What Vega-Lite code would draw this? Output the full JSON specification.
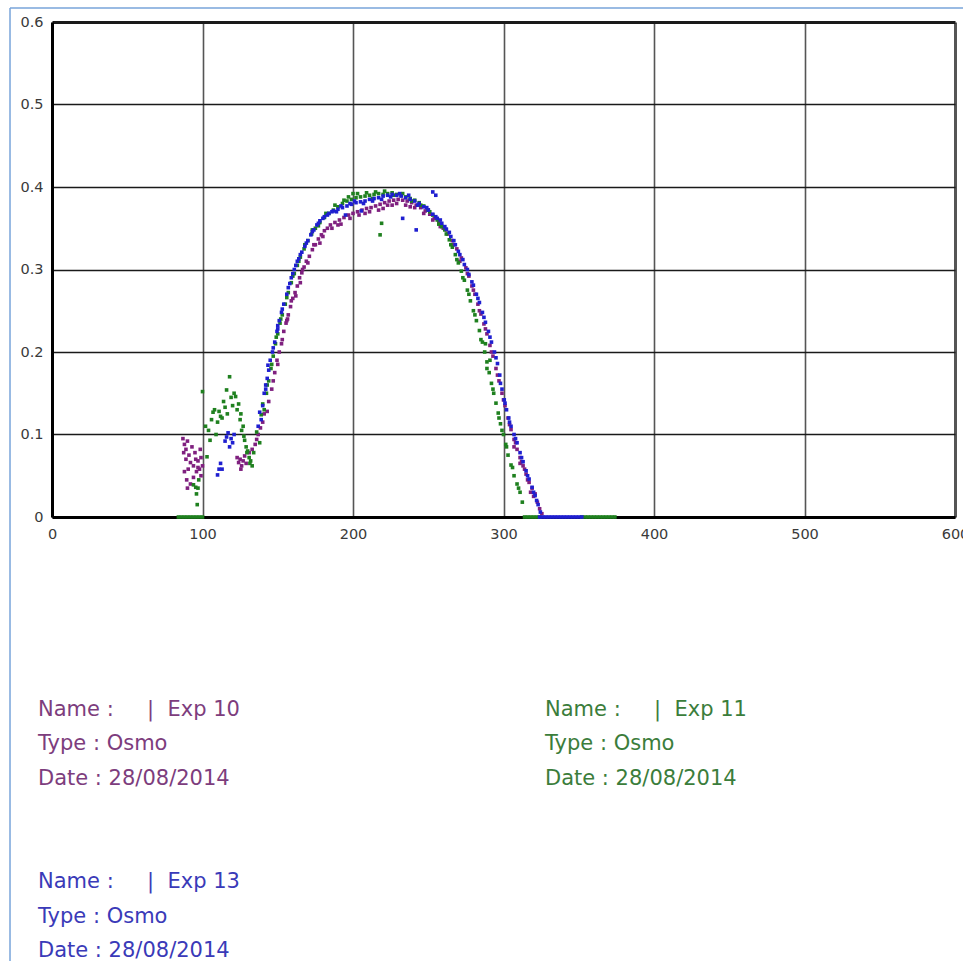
{
"$schema":"https://vega.github.io/schema/vega-lite/v6.json",
"width":903,"height":495,
"autosize":{"type":"none"},
"padding":{"left":52,"top":22,"right":8,"bottom":444},
"background":"white",
"config":{"view":{"stroke":null},"axis":{"labelFont":"DejaVu Sans","labelFontSize":14.5,"labelColor":"#3a3a3a","ticks":false,"tickSize":0,"domainColor":"#000000","domainWidth":3,"title":null}},
"datasets":{
"pts":[
{"exp":"Exp 10","x":87,"y":0.095},{"exp":"Exp 10","x":88,"y":0.088},{"exp":"Exp 10","x":87.5,"y":0.078},{"exp":"Exp 10","x":89,"y":0.082},{"exp":"Exp 10","x":90,"y":0.092},{"exp":"Exp 10","x":89,"y":0.07},{"exp":"Exp 10","x":91,"y":0.075},{"exp":"Exp 10","x":92,"y":0.066},{"exp":"Exp 10","x":90.5,"y":0.058},{"exp":"Exp 10","x":93,"y":0.085},{"exp":"Exp 10","x":94,"y":0.062},{"exp":"Exp 10","x":95,"y":0.078},{"exp":"Exp 10","x":96,"y":0.055},{"exp":"Exp 10","x":95.5,"y":0.07},{"exp":"Exp 10","x":97,"y":0.068},{"exp":"Exp 10","x":98,"y":0.058},{"exp":"Exp 10","x":99,"y":0.05},{"exp":"Exp 10","x":88,"y":0.055},{"exp":"Exp 10","x":89.5,"y":0.045},{"exp":"Exp 10","x":90,"y":0.035},{"exp":"Exp 10","x":92,"y":0.04},{"exp":"Exp 10","x":94,"y":0.048},{"exp":"Exp 10","x":97,"y":0.06},{"exp":"Exp 10","x":99,"y":0.072},{"exp":"Exp 10","x":100,"y":0.062},{"exp":"Exp 10","x":98.5,"y":0.082},
{"exp":"Exp 10","x":123,"y":0.072},{"exp":"Exp 10","x":124,"y":0.066},{"exp":"Exp 10","x":125,"y":0.07},{"exp":"Exp 10","x":126,"y":0.062},{"exp":"Exp 10","x":127,"y":0.068},{"exp":"Exp 10","x":125.5,"y":0.058},{"exp":"Exp 10","x":128,"y":0.074},{"exp":"Exp 10","x":129,"y":0.065},{"exp":"Exp 10","x":131,"y":0.078},{"exp":"Exp 10","x":133,"y":0.082},{"exp":"Exp 10","x":135,"y":0.088},{"exp":"Exp 10","x":136,"y":0.094},{"exp":"Exp 10","x":137,"y":0.1},{"exp":"Exp 10","x":138.5,"y":0.108},{"exp":"Exp 10","x":140,"y":0.115},{"exp":"Exp 10","x":141,"y":0.125},{"exp":"Exp 10","x":143,"y":0.128},{"exp":"Exp 10","x":144,"y":0.14},{"exp":"Exp 10","x":146,"y":0.155},{"exp":"Exp 10","x":147,"y":0.165},
{"exp":"Exp 10","x":148,"y":0.175},{"exp":"Exp 10","x":149.5,"y":0.19},{"exp":"Exp 10","x":151,"y":0.2},{"exp":"Exp 10","x":152.5,"y":0.21},{"exp":"Exp 10","x":154,"y":0.225},{"exp":"Exp 10","x":155.5,"y":0.235},{"exp":"Exp 10","x":157,"y":0.245},{"exp":"Exp 10","x":158.5,"y":0.255},{"exp":"Exp 10","x":160,"y":0.265},{"exp":"Exp 10","x":161.5,"y":0.272},{"exp":"Exp 10","x":163,"y":0.28},{"exp":"Exp 10","x":164.5,"y":0.29},{"exp":"Exp 10","x":166,"y":0.296},{"exp":"Exp 10","x":167.5,"y":0.303},{"exp":"Exp 10","x":169,"y":0.31},{"exp":"Exp 10","x":171,"y":0.316},{"exp":"Exp 10","x":173,"y":0.324},{"exp":"Exp 10","x":175,"y":0.33},{"exp":"Exp 10","x":177,"y":0.337},{"exp":"Exp 10","x":179,"y":0.342},{"exp":"Exp 10","x":181,"y":0.347},{"exp":"Exp 10","x":183,"y":0.35},{"exp":"Exp 10","x":185,"y":0.354},{"exp":"Exp 10","x":188,"y":0.357},{"exp":"Exp 10","x":191,"y":0.36},{"exp":"Exp 10","x":194,"y":0.363},{"exp":"Exp 10","x":197,"y":0.366},{"exp":"Exp 10","x":200,"y":0.368},{"exp":"Exp 10","x":203,"y":0.37},{"exp":"Exp 10","x":206,"y":0.372},{"exp":"Exp 10","x":209,"y":0.374},{"exp":"Exp 10","x":212,"y":0.375},{"exp":"Exp 10","x":215,"y":0.377},{"exp":"Exp 10","x":218,"y":0.379},{"exp":"Exp 10","x":221,"y":0.381},{"exp":"Exp 10","x":224,"y":0.383},{"exp":"Exp 10","x":227,"y":0.384},{"exp":"Exp 10","x":230,"y":0.385},{"exp":"Exp 10","x":233,"y":0.384},{"exp":"Exp 10","x":236,"y":0.383},{"exp":"Exp 10","x":239,"y":0.381},{"exp":"Exp 10","x":242,"y":0.378},{"exp":"Exp 10","x":245,"y":0.375},{"exp":"Exp 10","x":248,"y":0.371},{"exp":"Exp 10","x":251,"y":0.367},{"exp":"Exp 10","x":254,"y":0.362},{"exp":"Exp 10","x":257,"y":0.357},{"exp":"Exp 10","x":260,"y":0.35},{"exp":"Exp 10","x":263,"y":0.343},{"exp":"Exp 10","x":266,"y":0.335},{"exp":"Exp 10","x":269,"y":0.325},{"exp":"Exp 10","x":272,"y":0.314},{"exp":"Exp 10","x":275,"y":0.302},{"exp":"Exp 10","x":277,"y":0.292},{"exp":"Exp 10","x":279,"y":0.28},{"exp":"Exp 10","x":281,"y":0.27},{"exp":"Exp 10","x":283,"y":0.258},{"exp":"Exp 10","x":285,"y":0.246},{"exp":"Exp 10","x":287,"y":0.234},{"exp":"Exp 10","x":289,"y":0.222},{"exp":"Exp 10","x":291,"y":0.208},{"exp":"Exp 10","x":293,"y":0.195},{"exp":"Exp 10","x":295,"y":0.18},{"exp":"Exp 10","x":297,"y":0.165},{"exp":"Exp 10","x":299,"y":0.15},{"exp":"Exp 10","x":301,"y":0.135},{"exp":"Exp 10","x":303,"y":0.12},{"exp":"Exp 10","x":305,"y":0.106},{"exp":"Exp 10","x":307,"y":0.094},{"exp":"Exp 10","x":309,"y":0.082},{"exp":"Exp 10","x":311,"y":0.072},{"exp":"Exp 10","x":313,"y":0.062},{"exp":"Exp 10","x":315,"y":0.052},{"exp":"Exp 10","x":317,"y":0.042},{"exp":"Exp 10","x":319,"y":0.035},{"exp":"Exp 10","x":321,"y":0.028},{"exp":"Exp 10","x":322.5,"y":0.018},{"exp":"Exp 10","x":324,"y":0.01},{"exp":"Exp 10","x":325.5,"y":0.004},
{"exp":"Exp 10","x":208,"y":0.368},{"exp":"Exp 10","x":220,"y":0.374},{"exp":"Exp 10","x":226,"y":0.378},{"exp":"Exp 10","x":238,"y":0.376},{"exp":"Exp 10","x":250,"y":0.372},{"exp":"Exp 10","x":190,"y":0.354},{"exp":"Exp 10","x":178,"y":0.332},{"exp":"Exp 10","x":165,"y":0.284},{"exp":"Exp 10","x":156,"y":0.238},{"exp":"Exp 10","x":307,"y":0.085},{"exp":"Exp 10","x":311,"y":0.065},{"exp":"Exp 10","x":316,"y":0.045},{"exp":"Exp 10","x":320,"y":0.025},{"exp":"Exp 10","x":318,"y":0.03},
{"exp":"Exp 10","x":150,"y":0.185},{"exp":"Exp 10","x":153,"y":0.215},{"exp":"Exp 10","x":156.5,"y":0.24},{"exp":"Exp 10","x":159,"y":0.262},{"exp":"Exp 10","x":162,"y":0.268},{"exp":"Exp 10","x":166.5,"y":0.3},{"exp":"Exp 10","x":170,"y":0.308},{"exp":"Exp 10","x":174,"y":0.33},{"exp":"Exp 10","x":180,"y":0.34},{"exp":"Exp 10","x":186,"y":0.35},{"exp":"Exp 10","x":192,"y":0.355},{"exp":"Exp 10","x":198,"y":0.362},{"exp":"Exp 10","x":204,"y":0.366},{"exp":"Exp 10","x":211,"y":0.37},{"exp":"Exp 10","x":217,"y":0.372},{"exp":"Exp 10","x":223,"y":0.378},{"exp":"Exp 10","x":229,"y":0.38},{"exp":"Exp 10","x":235,"y":0.378},{"exp":"Exp 10","x":241,"y":0.375},{"exp":"Exp 10","x":247,"y":0.368},{"exp":"Exp 10","x":253,"y":0.36},{"exp":"Exp 10","x":258,"y":0.352},{"exp":"Exp 10","x":262,"y":0.348},{"exp":"Exp 10","x":267,"y":0.33},{"exp":"Exp 10","x":271,"y":0.31},{"exp":"Exp 10","x":276,"y":0.295},{"exp":"Exp 10","x":280,"y":0.275},{"exp":"Exp 10","x":284,"y":0.25},{"exp":"Exp 10","x":288,"y":0.228},{"exp":"Exp 10","x":292,"y":0.2},{"exp":"Exp 10","x":296,"y":0.172},{"exp":"Exp 10","x":300,"y":0.142},{"exp":"Exp 10","x":304,"y":0.112},{"exp":"Exp 10","x":308,"y":0.09},{"exp":"Exp 10","x":312,"y":0.067},{"exp":"Exp 10","x":314,"y":0.058},
{"exp":"Exp 11","x":84,"y":0},{"exp":"Exp 11","x":86,"y":0},{"exp":"Exp 11","x":88,"y":0},{"exp":"Exp 11","x":90,"y":0},{"exp":"Exp 11","x":92,"y":0},{"exp":"Exp 11","x":94,"y":0},{"exp":"Exp 11","x":96,"y":0},{"exp":"Exp 11","x":98,"y":0},{"exp":"Exp 11","x":100,"y":0},
{"exp":"Exp 11","x":94,"y":0.039},{"exp":"Exp 11","x":95.5,"y":0.036},{"exp":"Exp 11","x":97,"y":0.035},{"exp":"Exp 11","x":96,"y":0.028},{"exp":"Exp 11","x":96.5,"y":0.015},{"exp":"Exp 11","x":97.5,"y":0.045},{"exp":"Exp 11","x":100,"y":0.152},{"exp":"Exp 11","x":102,"y":0.11},{"exp":"Exp 11","x":103,"y":0.073},{"exp":"Exp 11","x":104,"y":0.105},{"exp":"Exp 11","x":105,"y":0.093},{"exp":"Exp 11","x":106,"y":0.118},{"exp":"Exp 11","x":107,"y":0.127},{"exp":"Exp 11","x":108,"y":0.13},{"exp":"Exp 11","x":109,"y":0.1},{"exp":"Exp 11","x":110,"y":0.115},{"exp":"Exp 11","x":111,"y":0.128},{"exp":"Exp 11","x":112,"y":0.122},{"exp":"Exp 11","x":113,"y":0.12},{"exp":"Exp 11","x":114,"y":0.14},{"exp":"Exp 11","x":115,"y":0.133},{"exp":"Exp 11","x":116,"y":0.154},{"exp":"Exp 11","x":116.5,"y":0.125},{"exp":"Exp 11","x":118,"y":0.17},{"exp":"Exp 11","x":119,"y":0.145},{"exp":"Exp 11","x":120,"y":0.135},{"exp":"Exp 11","x":121,"y":0.15},{"exp":"Exp 11","x":122,"y":0.146},{"exp":"Exp 11","x":123,"y":0.13},{"exp":"Exp 11","x":124,"y":0.137},{"exp":"Exp 11","x":125,"y":0.118},{"exp":"Exp 11","x":125.5,"y":0.125},{"exp":"Exp 11","x":126,"y":0.105},{"exp":"Exp 11","x":127,"y":0.11},{"exp":"Exp 11","x":127.5,"y":0.098},{"exp":"Exp 11","x":128,"y":0.093},{"exp":"Exp 11","x":129,"y":0.085},{"exp":"Exp 11","x":129.5,"y":0.078},{"exp":"Exp 11","x":130,"y":0.08},{"exp":"Exp 11","x":131,"y":0.072},{"exp":"Exp 11","x":131.5,"y":0.065},{"exp":"Exp 11","x":132,"y":0.068},{"exp":"Exp 11","x":133,"y":0.062},{"exp":"Exp 11","x":134,"y":0.078},{"exp":"Exp 11","x":136,"y":0.103},{"exp":"Exp 11","x":138,"y":0.09},{"exp":"Exp 11","x":139,"y":0.124},{"exp":"Exp 11","x":140,"y":0.137},
{"exp":"Exp 11","x":141,"y":0.13},{"exp":"Exp 11","x":142.5,"y":0.15},{"exp":"Exp 11","x":144,"y":0.165},{"exp":"Exp 11","x":145.5,"y":0.18},{"exp":"Exp 11","x":147,"y":0.195},{"exp":"Exp 11","x":148.5,"y":0.21},{"exp":"Exp 11","x":150,"y":0.222},{"exp":"Exp 11","x":151.5,"y":0.235},{"exp":"Exp 11","x":153,"y":0.245},{"exp":"Exp 11","x":155,"y":0.258},{"exp":"Exp 11","x":157,"y":0.272},{"exp":"Exp 11","x":159,"y":0.284},{"exp":"Exp 11","x":161,"y":0.295},{"exp":"Exp 11","x":163,"y":0.305},{"exp":"Exp 11","x":165,"y":0.315},{"exp":"Exp 11","x":167.5,"y":0.325},{"exp":"Exp 11","x":170,"y":0.335},{"exp":"Exp 11","x":172.5,"y":0.343},{"exp":"Exp 11","x":175,"y":0.35},{"exp":"Exp 11","x":178,"y":0.357},{"exp":"Exp 11","x":181,"y":0.363},{"exp":"Exp 11","x":184,"y":0.368},{"exp":"Exp 11","x":187,"y":0.372},{"exp":"Exp 11","x":190,"y":0.376},{"exp":"Exp 11","x":193,"y":0.38},{"exp":"Exp 11","x":196,"y":0.383},{"exp":"Exp 11","x":199,"y":0.385},{"exp":"Exp 11","x":202,"y":0.387},{"exp":"Exp 11","x":205,"y":0.388},{"exp":"Exp 11","x":208,"y":0.389},{"exp":"Exp 11","x":211,"y":0.39},{"exp":"Exp 11","x":214,"y":0.391},{"exp":"Exp 11","x":217,"y":0.392},{"exp":"Exp 11","x":220,"y":0.391},{"exp":"Exp 11","x":223,"y":0.392},{"exp":"Exp 11","x":226,"y":0.393},{"exp":"Exp 11","x":229,"y":0.391},{"exp":"Exp 11","x":232,"y":0.39},{"exp":"Exp 11","x":235,"y":0.388},{"exp":"Exp 11","x":238,"y":0.386},{"exp":"Exp 11","x":241,"y":0.384},{"exp":"Exp 11","x":244,"y":0.381},{"exp":"Exp 11","x":247,"y":0.377},{"exp":"Exp 11","x":250,"y":0.372},{"exp":"Exp 11","x":253,"y":0.366},{"exp":"Exp 11","x":256,"y":0.36},{"exp":"Exp 11","x":259,"y":0.352},{"exp":"Exp 11","x":262,"y":0.343},{"exp":"Exp 11","x":264,"y":0.336},{"exp":"Exp 11","x":266,"y":0.327},{"exp":"Exp 11","x":268,"y":0.318},{"exp":"Exp 11","x":270,"y":0.308},{"exp":"Exp 11","x":272,"y":0.298},{"exp":"Exp 11","x":274,"y":0.287},{"exp":"Exp 11","x":276,"y":0.275},{"exp":"Exp 11","x":278,"y":0.262},{"exp":"Exp 11","x":280,"y":0.25},{"exp":"Exp 11","x":282,"y":0.238},{"exp":"Exp 11","x":284,"y":0.226},{"exp":"Exp 11","x":286,"y":0.212},{"exp":"Exp 11","x":287.5,"y":0.2},{"exp":"Exp 11","x":289,"y":0.188},{"exp":"Exp 11","x":290.5,"y":0.175},{"exp":"Exp 11","x":292,"y":0.162},{"exp":"Exp 11","x":293.5,"y":0.15},{"exp":"Exp 11","x":295,"y":0.138},{"exp":"Exp 11","x":296.5,"y":0.126},{"exp":"Exp 11","x":298,"y":0.113},{"exp":"Exp 11","x":300,"y":0.1},{"exp":"Exp 11","x":301.5,"y":0.088},{"exp":"Exp 11","x":303,"y":0.075},{"exp":"Exp 11","x":305,"y":0.063},{"exp":"Exp 11","x":307,"y":0.05},{"exp":"Exp 11","x":309,"y":0.04},{"exp":"Exp 11","x":311,"y":0.03},{"exp":"Exp 11","x":312.5,"y":0.018},
{"exp":"Exp 11","x":200,"y":0.392},{"exp":"Exp 11","x":218,"y":0.342},{"exp":"Exp 11","x":219,"y":0.356},{"exp":"Exp 11","x":288,"y":0.21},{"exp":"Exp 11","x":291,"y":0.19},
{"exp":"Exp 11","x":143,"y":0.16},{"exp":"Exp 11","x":146,"y":0.185},{"exp":"Exp 11","x":149,"y":0.218},{"exp":"Exp 11","x":152,"y":0.24},{"exp":"Exp 11","x":156,"y":0.266},{"exp":"Exp 11","x":160,"y":0.292},{"exp":"Exp 11","x":164,"y":0.31},{"exp":"Exp 11","x":168,"y":0.33},{"exp":"Exp 11","x":173,"y":0.348},{"exp":"Exp 11","x":177,"y":0.353},{"exp":"Exp 11","x":182,"y":0.368},{"exp":"Exp 11","x":188,"y":0.378},{"exp":"Exp 11","x":194,"y":0.384},{"exp":"Exp 11","x":203,"y":0.392},{"exp":"Exp 11","x":209,"y":0.393},{"exp":"Exp 11","x":215,"y":0.394},{"exp":"Exp 11","x":221,"y":0.395},{"exp":"Exp 11","x":227,"y":0.39},{"exp":"Exp 11","x":233,"y":0.392},{"exp":"Exp 11","x":239,"y":0.383},{"exp":"Exp 11","x":245,"y":0.378},{"exp":"Exp 11","x":251,"y":0.37},{"exp":"Exp 11","x":257,"y":0.355},{"exp":"Exp 11","x":261,"y":0.348},{"exp":"Exp 11","x":265,"y":0.33},{"exp":"Exp 11","x":269,"y":0.312},{"exp":"Exp 11","x":273,"y":0.29},{"exp":"Exp 11","x":277,"y":0.27},{"exp":"Exp 11","x":281,"y":0.245},{"exp":"Exp 11","x":285,"y":0.215},{"exp":"Exp 11","x":289,"y":0.18},{"exp":"Exp 11","x":293,"y":0.155},{"exp":"Exp 11","x":297,"y":0.12},{"exp":"Exp 11","x":299,"y":0.105},{"exp":"Exp 11","x":302,"y":0.085},{"exp":"Exp 11","x":306,"y":0.06},{"exp":"Exp 11","x":310,"y":0.035},{"exp":"Exp 11","x":213,"y":0.386},{"exp":"Exp 11","x":197,"y":0.388},
{"exp":"Exp 11","x":314,"y":0},{"exp":"Exp 11","x":316,"y":0},{"exp":"Exp 11","x":318,"y":0},{"exp":"Exp 11","x":320,"y":0},{"exp":"Exp 11","x":322,"y":0},{"exp":"Exp 11","x":324,"y":0},{"exp":"Exp 11","x":352,"y":0},{"exp":"Exp 11","x":354,"y":0},{"exp":"Exp 11","x":356,"y":0},{"exp":"Exp 11","x":358,"y":0},{"exp":"Exp 11","x":360,"y":0},{"exp":"Exp 11","x":362,"y":0},{"exp":"Exp 11","x":364,"y":0},{"exp":"Exp 11","x":366,"y":0},{"exp":"Exp 11","x":368,"y":0},{"exp":"Exp 11","x":370,"y":0},{"exp":"Exp 11","x":372,"y":0},{"exp":"Exp 11","x":374,"y":0},
{"exp":"Exp 13","x":110,"y":0.051},{"exp":"Exp 13","x":111,"y":0.058},{"exp":"Exp 13","x":112,"y":0.065},{"exp":"Exp 13","x":113,"y":0.058},{"exp":"Exp 13","x":115,"y":0.092},{"exp":"Exp 13","x":116,"y":0.097},{"exp":"Exp 13","x":117,"y":0.102},{"exp":"Exp 13","x":118,"y":0.085},{"exp":"Exp 13","x":119,"y":0.095},{"exp":"Exp 13","x":120,"y":0.09},{"exp":"Exp 13","x":121,"y":0.1},
{"exp":"Exp 13","x":137,"y":0.11},{"exp":"Exp 13","x":138,"y":0.127},{"exp":"Exp 13","x":139,"y":0.118},{"exp":"Exp 13","x":140,"y":0.135},{"exp":"Exp 13","x":141,"y":0.15},{"exp":"Exp 13","x":142,"y":0.16},{"exp":"Exp 13","x":143,"y":0.168},{"exp":"Exp 13","x":143.5,"y":0.184},{"exp":"Exp 13","x":145,"y":0.19},{"exp":"Exp 13","x":146.5,"y":0.2},{"exp":"Exp 13","x":148,"y":0.212},{"exp":"Exp 13","x":149.5,"y":0.225},{"exp":"Exp 13","x":150,"y":0.232},{"exp":"Exp 13","x":151,"y":0.238},{"exp":"Exp 13","x":152.5,"y":0.248},{"exp":"Exp 13","x":154,"y":0.258},{"exp":"Exp 13","x":156,"y":0.27},{"exp":"Exp 13","x":158,"y":0.283},{"exp":"Exp 13","x":160,"y":0.295},{"exp":"Exp 13","x":162,"y":0.305},{"exp":"Exp 13","x":163,"y":0.31},{"exp":"Exp 13","x":164,"y":0.313},{"exp":"Exp 13","x":166,"y":0.321},{"exp":"Exp 13","x":168,"y":0.328},{"exp":"Exp 13","x":170,"y":0.335},{"exp":"Exp 13","x":172,"y":0.342},{"exp":"Exp 13","x":174,"y":0.348},{"exp":"Exp 13","x":176,"y":0.354},{"exp":"Exp 13","x":178,"y":0.359},{"exp":"Exp 13","x":181,"y":0.364},{"exp":"Exp 13","x":184,"y":0.368},{"exp":"Exp 13","x":187,"y":0.371},{"exp":"Exp 13","x":190,"y":0.373},{"exp":"Exp 13","x":193,"y":0.375},{"exp":"Exp 13","x":195,"y":0.366},{"exp":"Exp 13","x":196,"y":0.377},{"exp":"Exp 13","x":199,"y":0.379},{"exp":"Exp 13","x":202,"y":0.381},{"exp":"Exp 13","x":205,"y":0.382},{"exp":"Exp 13","x":205.5,"y":0.371},{"exp":"Exp 13","x":208,"y":0.383},{"exp":"Exp 13","x":211,"y":0.385},{"exp":"Exp 13","x":214,"y":0.386},{"exp":"Exp 13","x":217,"y":0.387},{"exp":"Exp 13","x":220,"y":0.389},{"exp":"Exp 13","x":223,"y":0.39},{"exp":"Exp 13","x":226,"y":0.391},{"exp":"Exp 13","x":229,"y":0.39},{"exp":"Exp 13","x":232,"y":0.389},{"exp":"Exp 13","x":235,"y":0.387},{"exp":"Exp 13","x":238,"y":0.385},{"exp":"Exp 13","x":241,"y":0.383},{"exp":"Exp 13","x":244,"y":0.38},{"exp":"Exp 13","x":247,"y":0.376},{"exp":"Exp 13","x":250,"y":0.372},{"exp":"Exp 13","x":253,"y":0.367},{"exp":"Exp 13","x":256,"y":0.362},{"exp":"Exp 13","x":259,"y":0.356},{"exp":"Exp 13","x":262,"y":0.349},{"exp":"Exp 13","x":265,"y":0.34},{"exp":"Exp 13","x":268,"y":0.33},{"exp":"Exp 13","x":271,"y":0.318},{"exp":"Exp 13","x":274,"y":0.306},{"exp":"Exp 13","x":277,"y":0.294},{"exp":"Exp 13","x":280,"y":0.281},{"exp":"Exp 13","x":282,"y":0.27},{"exp":"Exp 13","x":284,"y":0.26},{"exp":"Exp 13","x":286,"y":0.248},{"exp":"Exp 13","x":288,"y":0.236},{"exp":"Exp 13","x":290,"y":0.225},{"exp":"Exp 13","x":292,"y":0.212},{"exp":"Exp 13","x":294,"y":0.2},{"exp":"Exp 13","x":296,"y":0.186},{"exp":"Exp 13","x":297.5,"y":0.172},{"exp":"Exp 13","x":299,"y":0.155},{"exp":"Exp 13","x":300.5,"y":0.142},{"exp":"Exp 13","x":302,"y":0.13},{"exp":"Exp 13","x":303.5,"y":0.12},{"exp":"Exp 13","x":305,"y":0.11},{"exp":"Exp 13","x":307,"y":0.1},{"exp":"Exp 13","x":309,"y":0.09},{"exp":"Exp 13","x":311,"y":0.078},{"exp":"Exp 13","x":313,"y":0.067},{"exp":"Exp 13","x":315,"y":0.056},{"exp":"Exp 13","x":317,"y":0.046},{"exp":"Exp 13","x":319,"y":0.036},{"exp":"Exp 13","x":321,"y":0.026},{"exp":"Exp 13","x":323,"y":0.015},{"exp":"Exp 13","x":324.5,"y":0.006},
{"exp":"Exp 13","x":233,"y":0.362},{"exp":"Exp 13","x":242,"y":0.348},{"exp":"Exp 13","x":253,"y":0.394},{"exp":"Exp 13","x":255,"y":0.39},
{"exp":"Exp 13","x":142,"y":0.155},{"exp":"Exp 13","x":144,"y":0.178},{"exp":"Exp 13","x":147,"y":0.205},{"exp":"Exp 13","x":150,"y":0.228},{"exp":"Exp 13","x":153,"y":0.252},{"exp":"Exp 13","x":157,"y":0.278},{"exp":"Exp 13","x":159,"y":0.29},{"exp":"Exp 13","x":161,"y":0.3},{"exp":"Exp 13","x":165,"y":0.318},{"exp":"Exp 13","x":169,"y":0.332},{"exp":"Exp 13","x":173,"y":0.346},{"exp":"Exp 13","x":177,"y":0.356},{"exp":"Exp 13","x":180,"y":0.362},{"exp":"Exp 13","x":183,"y":0.366},{"exp":"Exp 13","x":186,"y":0.37},{"exp":"Exp 13","x":189,"y":0.37},{"exp":"Exp 13","x":192,"y":0.377},{"exp":"Exp 13","x":198,"y":0.38},{"exp":"Exp 13","x":201,"y":0.383},{"exp":"Exp 13","x":207,"y":0.38},{"exp":"Exp 13","x":213,"y":0.383},{"exp":"Exp 13","x":219,"y":0.385},{"exp":"Exp 13","x":225,"y":0.388},{"exp":"Exp 13","x":231,"y":0.392},{"exp":"Exp 13","x":237,"y":0.39},{"exp":"Exp 13","x":243,"y":0.378},{"exp":"Exp 13","x":249,"y":0.375},{"exp":"Exp 13","x":255,"y":0.364},{"exp":"Exp 13","x":258,"y":0.36},{"exp":"Exp 13","x":261,"y":0.352},{"exp":"Exp 13","x":264,"y":0.345},{"exp":"Exp 13","x":267,"y":0.335},{"exp":"Exp 13","x":270,"y":0.322},{"exp":"Exp 13","x":273,"y":0.312},{"exp":"Exp 13","x":276,"y":0.3},{"exp":"Exp 13","x":279,"y":0.285},{"exp":"Exp 13","x":283,"y":0.265},{"exp":"Exp 13","x":287,"y":0.242},{"exp":"Exp 13","x":291,"y":0.218},{"exp":"Exp 13","x":295,"y":0.193},{"exp":"Exp 13","x":298,"y":0.162},{"exp":"Exp 13","x":301,"y":0.138},{"exp":"Exp 13","x":304,"y":0.115},{"exp":"Exp 13","x":308,"y":0.095},{"exp":"Exp 13","x":312,"y":0.072},{"exp":"Exp 13","x":316,"y":0.05},{"exp":"Exp 13","x":320,"y":0.03},{"exp":"Exp 13","x":322,"y":0.02},
{"exp":"Exp 13","x":324,"y":0},{"exp":"Exp 13","x":326,"y":0},{"exp":"Exp 13","x":328,"y":0},{"exp":"Exp 13","x":330,"y":0},{"exp":"Exp 13","x":332,"y":0},{"exp":"Exp 13","x":334,"y":0},{"exp":"Exp 13","x":336,"y":0},{"exp":"Exp 13","x":338,"y":0},{"exp":"Exp 13","x":340,"y":0},{"exp":"Exp 13","x":342,"y":0},{"exp":"Exp 13","x":344,"y":0},{"exp":"Exp 13","x":346,"y":0},{"exp":"Exp 13","x":348,"y":0},{"exp":"Exp 13","x":350,"y":0},{"exp":"Exp 13","x":352,"y":0}
],
"legend":[
{"exp":"Exp 10","col":0,"row":0,"label":"Name :\u00a0\u00a0\u00a0\u00a0\u00a0|\u00a0\u00a0Exp 10"},
{"exp":"Exp 10","col":0,"row":1,"label":"Type : Osmo"},
{"exp":"Exp 10","col":0,"row":2,"label":"Date : 28/08/2014"},
{"exp":"Exp 11","col":1,"row":0,"label":"Name :\u00a0\u00a0\u00a0\u00a0\u00a0|\u00a0\u00a0Exp 11"},
{"exp":"Exp 11","col":1,"row":1,"label":"Type : Osmo"},
{"exp":"Exp 11","col":1,"row":2,"label":"Date : 28/08/2014"},
{"exp":"Exp 13","col":0,"row":5,"label":"Name :\u00a0\u00a0\u00a0\u00a0\u00a0|\u00a0\u00a0Exp 13"},
{"exp":"Exp 13","col":0,"row":6,"label":"Type : Osmo"},
{"exp":"Exp 13","col":0,"row":7,"label":"Date : 28/08/2014"}
]
},
"layer":[
{"layer":[
{"data":{"name":"pts"},
"mark":{"type":"point","shape":"square","filled":true,"size":13,"opacity":1},
"encoding":{
"x":{"field":"x","type":"quantitative","scale":{"domain":[0,600],"nice":false,"zero":false},
"axis":{"values":[0,100,200,300,400,500,600],"grid":true,"gridColor":"#555555","gridWidth":{"condition":{"test":"datum.value == 600","value":3},"value":1.6},"labelPadding":10,"labelFlush":false,"labelOverlap":false}},
"y":{"field":"y","type":"quantitative","scale":{"domain":[0,0.6],"nice":false},
"axis":{"values":[0,0.1,0.2,0.3,0.4,0.5,0.6],"format":"~g","grid":true,"gridColor":"#1a1a1a","gridWidth":{"condition":{"test":"datum.value > 0.55","value":3},"value":1.5},"labelPadding":9,"labelFlush":false}},
"color":{"field":"exp","type":"nominal","scale":{"domain":["Exp 10","Exp 11","Exp 13"],"range":["#7f207f","#1f801f","#1f1fd0"]},"legend":null}}},
{"data":{"values":[{}]},
"mark":{"type":"rule","color":"#78a4da","strokeWidth":1.5},
"encoding":{"x":{"datum":-27.9,"type":"quantitative","scale":{"domain":[0,600],"nice":false,"zero":false}},"y":{"datum":0.617,"type":"quantitative","scale":{"domain":[0,0.6],"nice":false}},"y2":{"datum":-0.54}}},
{"data":{"values":[{}]},
"mark":{"type":"rule","color":"#78a4da","strokeWidth":1.5},
"encoding":{"x":{"datum":-27.9,"type":"quantitative","scale":{"domain":[0,600],"nice":false,"zero":false}},"x2":{"datum":610},"y":{"datum":0.617,"type":"quantitative","scale":{"domain":[0,0.6],"nice":false}}}}
]},
{"data":{"name":"legend"},
"mark":{"type":"text","align":"left","baseline":"alphabetic","font":"DejaVu Sans","fontSize":21},
"encoding":{
"x":{"field":"col","type":"quantitative","scale":{"domain":[0,1],"range":[-14,493]},"axis":null},
"y":{"field":"row","type":"quantitative","scale":{"domain":[0,7],"range":[694,935]},"axis":null},
"text":{"field":"label","type":"nominal"},
"color":{"field":"exp","type":"nominal","scale":{"domain":["Exp 10","Exp 11","Exp 13"],"range":["#7d3d7d","#3b7d3b","#3a3ab8"]},"legend":null}}}
],
"resolve":{"scale":{"x":"independent","y":"independent","color":"independent"}}
}
